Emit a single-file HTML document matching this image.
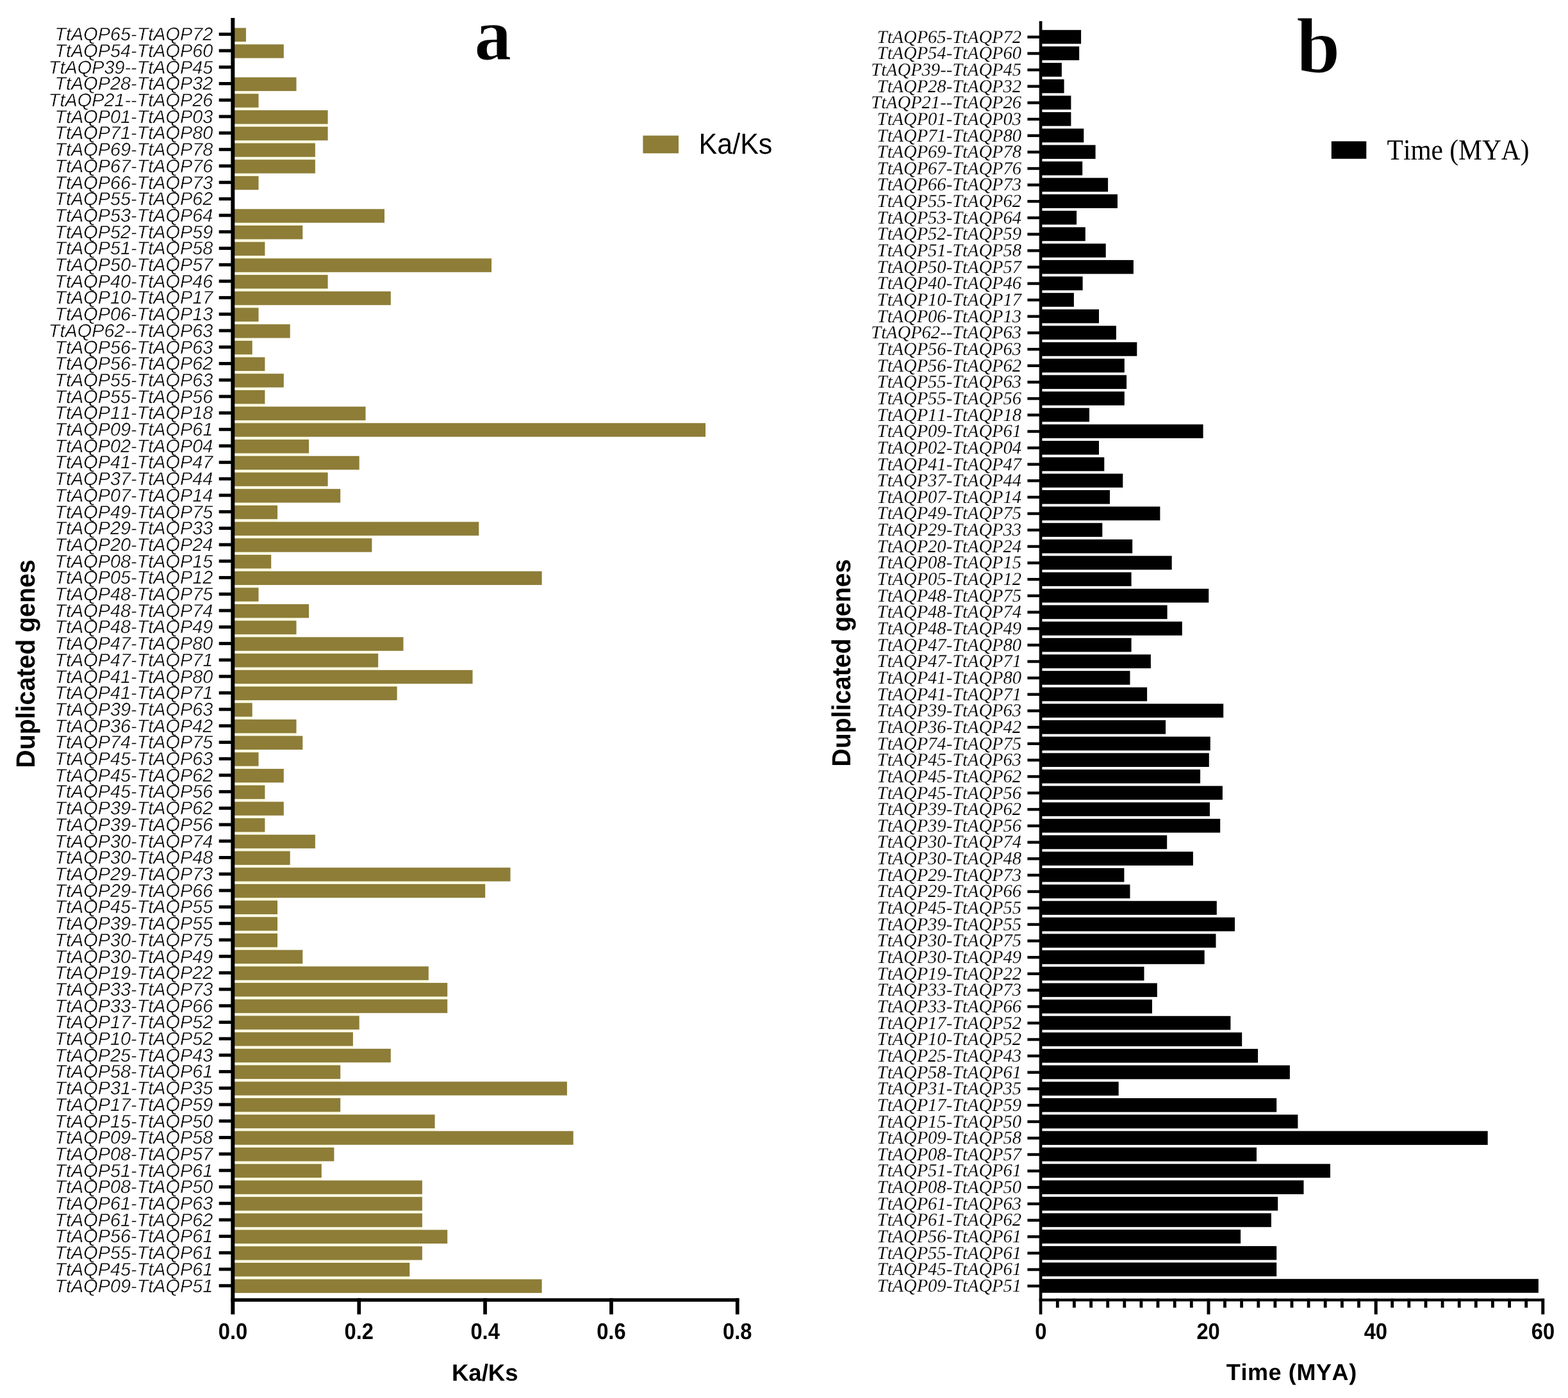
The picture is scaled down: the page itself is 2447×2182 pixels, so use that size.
<!DOCTYPE html>
<html lang="en"><head><meta charset="utf-8"><title>Duplicated genes: Ka/Ks and divergence time</title>
<style>
html,body{margin:0;padding:0;background:#fff;}
body{width:2447px;height:2182px;overflow:hidden;}
svg{display:block;}
text{font-kerning:none;font-variant-ligatures:none;text-rendering:geometricPrecision;}
.ls{font-family:"Liberation Sans",sans-serif;}
.lf{font-family:"Liberation Serif",serif;}
.cat-a{font-family:"Liberation Sans",sans-serif;font-style:italic;font-size:28.85px;text-anchor:end;fill:#000;stroke:#fff;stroke-width:0.45px;paint-order:fill stroke;}
.cat-b{font-family:"Liberation Serif",serif;font-style:italic;font-size:28.55px;text-anchor:end;fill:#000;stroke:#fff;stroke-width:0.18px;paint-order:fill stroke;}
.tick{font-family:"Liberation Sans",sans-serif;font-weight:bold;font-size:32.7px;text-anchor:middle;fill:#000;}
.ttl{font-family:"Liberation Sans",sans-serif;font-weight:bold;text-anchor:middle;fill:#000;}
</style></head><body>
<svg width="2447" height="2182" viewBox="0 0 2447 2182">
<rect x="0" y="0" width="2447" height="2182" fill="#ffffff"/>
<g id="chart-a">
<g fill="#fdfbe4">
<rect x="362.0" y="64.50" width="21.9" height="5.30"/>
<rect x="362.0" y="141.59" width="41.5" height="5.30"/>
<rect x="362.0" y="167.29" width="41.5" height="5.30"/>
<rect x="362.0" y="192.99" width="149.6" height="5.30"/>
<rect x="362.0" y="218.69" width="129.9" height="5.30"/>
<rect x="362.0" y="244.39" width="129.9" height="5.30"/>
<rect x="362.0" y="270.08" width="41.5" height="5.30"/>
<rect x="362.0" y="347.18" width="110.3" height="5.30"/>
<rect x="362.0" y="372.88" width="51.4" height="5.30"/>
<rect x="362.0" y="398.57" width="51.4" height="5.30"/>
<rect x="362.0" y="424.27" width="149.6" height="5.30"/>
<rect x="362.0" y="449.97" width="149.6" height="5.30"/>
<rect x="362.0" y="475.67" width="41.5" height="5.30"/>
<rect x="362.0" y="501.37" width="41.5" height="5.30"/>
<rect x="362.0" y="527.06" width="31.7" height="5.30"/>
<rect x="362.0" y="552.76" width="31.7" height="5.30"/>
<rect x="362.0" y="578.46" width="51.4" height="5.30"/>
<rect x="362.0" y="604.16" width="51.4" height="5.30"/>
<rect x="362.0" y="629.86" width="51.4" height="5.30"/>
<rect x="362.0" y="655.55" width="208.5" height="5.30"/>
<rect x="362.0" y="681.25" width="120.1" height="5.30"/>
<rect x="362.0" y="706.95" width="120.1" height="5.30"/>
<rect x="362.0" y="732.65" width="149.6" height="5.30"/>
<rect x="362.0" y="758.35" width="149.6" height="5.30"/>
<rect x="362.0" y="784.04" width="71.0" height="5.30"/>
<rect x="362.0" y="809.74" width="71.0" height="5.30"/>
<rect x="362.0" y="835.44" width="218.4" height="5.30"/>
<rect x="362.0" y="861.14" width="61.2" height="5.30"/>
<rect x="362.0" y="886.84" width="61.2" height="5.30"/>
<rect x="362.0" y="912.53" width="41.5" height="5.30"/>
<rect x="362.0" y="938.23" width="41.5" height="5.30"/>
<rect x="362.0" y="963.93" width="100.5" height="5.30"/>
<rect x="362.0" y="989.63" width="100.5" height="5.30"/>
<rect x="362.0" y="1015.33" width="228.2" height="5.30"/>
<rect x="362.0" y="1041.02" width="228.2" height="5.30"/>
<rect x="362.0" y="1066.72" width="257.6" height="5.30"/>
<rect x="362.0" y="1092.42" width="31.7" height="5.30"/>
<rect x="362.0" y="1118.12" width="31.7" height="5.30"/>
<rect x="362.0" y="1143.82" width="100.5" height="5.30"/>
<rect x="362.0" y="1169.51" width="41.5" height="5.30"/>
<rect x="362.0" y="1195.21" width="41.5" height="5.30"/>
<rect x="362.0" y="1220.91" width="51.4" height="5.30"/>
<rect x="362.0" y="1246.61" width="51.4" height="5.30"/>
<rect x="362.0" y="1272.31" width="51.4" height="5.30"/>
<rect x="362.0" y="1298.00" width="51.4" height="5.30"/>
<rect x="362.0" y="1323.70" width="90.7" height="5.30"/>
<rect x="362.0" y="1349.40" width="90.7" height="5.30"/>
<rect x="362.0" y="1375.10" width="395.2" height="5.30"/>
<rect x="362.0" y="1400.80" width="71.0" height="5.30"/>
<rect x="362.0" y="1426.49" width="71.0" height="5.30"/>
<rect x="362.0" y="1452.19" width="71.0" height="5.30"/>
<rect x="362.0" y="1477.89" width="71.0" height="5.30"/>
<rect x="362.0" y="1503.59" width="110.3" height="5.30"/>
<rect x="362.0" y="1529.29" width="306.8" height="5.30"/>
<rect x="362.0" y="1554.98" width="336.2" height="5.30"/>
<rect x="362.0" y="1580.68" width="198.7" height="5.30"/>
<rect x="362.0" y="1606.38" width="188.9" height="5.30"/>
<rect x="362.0" y="1632.08" width="188.9" height="5.30"/>
<rect x="362.0" y="1657.78" width="169.2" height="5.30"/>
<rect x="362.0" y="1683.47" width="169.2" height="5.30"/>
<rect x="362.0" y="1709.17" width="169.2" height="5.30"/>
<rect x="362.0" y="1734.87" width="169.2" height="5.30"/>
<rect x="362.0" y="1760.57" width="316.6" height="5.30"/>
<rect x="362.0" y="1786.27" width="159.4" height="5.30"/>
<rect x="362.0" y="1811.96" width="139.8" height="5.30"/>
<rect x="362.0" y="1837.66" width="139.8" height="5.30"/>
<rect x="362.0" y="1863.36" width="296.9" height="5.30"/>
<rect x="362.0" y="1889.06" width="296.9" height="5.30"/>
<rect x="362.0" y="1914.76" width="296.9" height="5.30"/>
<rect x="362.0" y="1940.45" width="296.9" height="5.30"/>
<rect x="362.0" y="1966.15" width="277.3" height="5.30"/>
<rect x="362.0" y="1991.85" width="277.3" height="5.30"/>
</g>
<g fill="#8d7d37">
<rect x="362.0" y="43.60" width="21.9" height="21.40"/>
<rect x="362.0" y="69.30" width="80.8" height="21.40"/>
<rect x="362.0" y="120.69" width="100.5" height="21.40"/>
<rect x="362.0" y="146.39" width="41.5" height="21.40"/>
<rect x="362.0" y="172.09" width="149.6" height="21.40"/>
<rect x="362.0" y="197.79" width="149.6" height="21.40"/>
<rect x="362.0" y="223.49" width="129.9" height="21.40"/>
<rect x="362.0" y="249.18" width="129.9" height="21.40"/>
<rect x="362.0" y="274.88" width="41.5" height="21.40"/>
<rect x="362.0" y="326.28" width="238.0" height="21.40"/>
<rect x="362.0" y="351.98" width="110.3" height="21.40"/>
<rect x="362.0" y="377.67" width="51.4" height="21.40"/>
<rect x="362.0" y="403.37" width="405.0" height="21.40"/>
<rect x="362.0" y="429.07" width="149.6" height="21.40"/>
<rect x="362.0" y="454.77" width="247.8" height="21.40"/>
<rect x="362.0" y="480.47" width="41.5" height="21.40"/>
<rect x="362.0" y="506.16" width="90.7" height="21.40"/>
<rect x="362.0" y="531.86" width="31.7" height="21.40"/>
<rect x="362.0" y="557.56" width="51.4" height="21.40"/>
<rect x="362.0" y="583.26" width="80.8" height="21.40"/>
<rect x="362.0" y="608.96" width="51.4" height="21.40"/>
<rect x="362.0" y="634.65" width="208.5" height="21.40"/>
<rect x="362.0" y="660.35" width="739.0" height="21.40"/>
<rect x="362.0" y="686.05" width="120.1" height="21.40"/>
<rect x="362.0" y="711.75" width="198.7" height="21.40"/>
<rect x="362.0" y="737.45" width="149.6" height="21.40"/>
<rect x="362.0" y="763.14" width="169.2" height="21.40"/>
<rect x="362.0" y="788.84" width="71.0" height="21.40"/>
<rect x="362.0" y="814.54" width="385.3" height="21.40"/>
<rect x="362.0" y="840.24" width="218.4" height="21.40"/>
<rect x="362.0" y="865.94" width="61.2" height="21.40"/>
<rect x="362.0" y="891.63" width="483.6" height="21.40"/>
<rect x="362.0" y="917.33" width="41.5" height="21.40"/>
<rect x="362.0" y="943.03" width="120.1" height="21.40"/>
<rect x="362.0" y="968.73" width="100.5" height="21.40"/>
<rect x="362.0" y="994.43" width="267.5" height="21.40"/>
<rect x="362.0" y="1020.12" width="228.2" height="21.40"/>
<rect x="362.0" y="1045.82" width="375.5" height="21.40"/>
<rect x="362.0" y="1071.52" width="257.6" height="21.40"/>
<rect x="362.0" y="1097.22" width="31.7" height="21.40"/>
<rect x="362.0" y="1122.92" width="100.5" height="21.40"/>
<rect x="362.0" y="1148.61" width="110.3" height="21.40"/>
<rect x="362.0" y="1174.31" width="41.5" height="21.40"/>
<rect x="362.0" y="1200.01" width="80.8" height="21.40"/>
<rect x="362.0" y="1225.71" width="51.4" height="21.40"/>
<rect x="362.0" y="1251.41" width="80.8" height="21.40"/>
<rect x="362.0" y="1277.10" width="51.4" height="21.40"/>
<rect x="362.0" y="1302.80" width="129.9" height="21.40"/>
<rect x="362.0" y="1328.50" width="90.7" height="21.40"/>
<rect x="362.0" y="1354.20" width="434.5" height="21.40"/>
<rect x="362.0" y="1379.90" width="395.2" height="21.40"/>
<rect x="362.0" y="1405.59" width="71.0" height="21.40"/>
<rect x="362.0" y="1431.29" width="71.0" height="21.40"/>
<rect x="362.0" y="1456.99" width="71.0" height="21.40"/>
<rect x="362.0" y="1482.69" width="110.3" height="21.40"/>
<rect x="362.0" y="1508.39" width="306.8" height="21.40"/>
<rect x="362.0" y="1534.08" width="336.2" height="21.40"/>
<rect x="362.0" y="1559.78" width="336.2" height="21.40"/>
<rect x="362.0" y="1585.48" width="198.7" height="21.40"/>
<rect x="362.0" y="1611.18" width="188.9" height="21.40"/>
<rect x="362.0" y="1636.88" width="247.8" height="21.40"/>
<rect x="362.0" y="1662.57" width="169.2" height="21.40"/>
<rect x="362.0" y="1688.27" width="522.9" height="21.40"/>
<rect x="362.0" y="1713.97" width="169.2" height="21.40"/>
<rect x="362.0" y="1739.67" width="316.6" height="21.40"/>
<rect x="362.0" y="1765.37" width="532.7" height="21.40"/>
<rect x="362.0" y="1791.06" width="159.4" height="21.40"/>
<rect x="362.0" y="1816.76" width="139.8" height="21.40"/>
<rect x="362.0" y="1842.46" width="296.9" height="21.40"/>
<rect x="362.0" y="1868.16" width="296.9" height="21.40"/>
<rect x="362.0" y="1893.86" width="296.9" height="21.40"/>
<rect x="362.0" y="1919.55" width="336.2" height="21.40"/>
<rect x="362.0" y="1945.25" width="296.9" height="21.40"/>
<rect x="362.0" y="1970.95" width="277.3" height="21.40"/>
<rect x="362.0" y="1996.65" width="483.6" height="21.40"/>
</g>
<g fill="#000">
<rect x="360.3" y="28.0" width="6.0" height="2023.5"/>
<rect x="360.3" y="2026.3" width="793.0" height="5.4"/>
<rect x="341.7" y="50.90" width="19.6" height="5.0"/>
<rect x="341.7" y="76.60" width="19.6" height="5.0"/>
<rect x="341.7" y="102.30" width="19.6" height="5.0"/>
<rect x="341.7" y="128.01" width="19.6" height="5.0"/>
<rect x="341.7" y="153.71" width="19.6" height="5.0"/>
<rect x="341.7" y="179.41" width="19.6" height="5.0"/>
<rect x="341.7" y="205.11" width="19.6" height="5.0"/>
<rect x="341.7" y="230.81" width="19.6" height="5.0"/>
<rect x="341.7" y="256.52" width="19.6" height="5.0"/>
<rect x="341.7" y="282.22" width="19.6" height="5.0"/>
<rect x="341.7" y="307.92" width="19.6" height="5.0"/>
<rect x="341.7" y="333.62" width="19.6" height="5.0"/>
<rect x="341.7" y="359.32" width="19.6" height="5.0"/>
<rect x="341.7" y="385.03" width="19.6" height="5.0"/>
<rect x="341.7" y="410.73" width="19.6" height="5.0"/>
<rect x="341.7" y="436.43" width="19.6" height="5.0"/>
<rect x="341.7" y="462.13" width="19.6" height="5.0"/>
<rect x="341.7" y="487.83" width="19.6" height="5.0"/>
<rect x="341.7" y="513.54" width="19.6" height="5.0"/>
<rect x="341.7" y="539.24" width="19.6" height="5.0"/>
<rect x="341.7" y="564.94" width="19.6" height="5.0"/>
<rect x="341.7" y="590.64" width="19.6" height="5.0"/>
<rect x="341.7" y="616.34" width="19.6" height="5.0"/>
<rect x="341.7" y="642.05" width="19.6" height="5.0"/>
<rect x="341.7" y="667.75" width="19.6" height="5.0"/>
<rect x="341.7" y="693.45" width="19.6" height="5.0"/>
<rect x="341.7" y="719.15" width="19.6" height="5.0"/>
<rect x="341.7" y="744.85" width="19.6" height="5.0"/>
<rect x="341.7" y="770.56" width="19.6" height="5.0"/>
<rect x="341.7" y="796.26" width="19.6" height="5.0"/>
<rect x="341.7" y="821.96" width="19.6" height="5.0"/>
<rect x="341.7" y="847.66" width="19.6" height="5.0"/>
<rect x="341.7" y="873.36" width="19.6" height="5.0"/>
<rect x="341.7" y="899.07" width="19.6" height="5.0"/>
<rect x="341.7" y="924.77" width="19.6" height="5.0"/>
<rect x="341.7" y="950.47" width="19.6" height="5.0"/>
<rect x="341.7" y="976.17" width="19.6" height="5.0"/>
<rect x="341.7" y="1001.87" width="19.6" height="5.0"/>
<rect x="341.7" y="1027.58" width="19.6" height="5.0"/>
<rect x="341.7" y="1053.28" width="19.6" height="5.0"/>
<rect x="341.7" y="1078.98" width="19.6" height="5.0"/>
<rect x="341.7" y="1104.68" width="19.6" height="5.0"/>
<rect x="341.7" y="1130.38" width="19.6" height="5.0"/>
<rect x="341.7" y="1156.09" width="19.6" height="5.0"/>
<rect x="341.7" y="1181.79" width="19.6" height="5.0"/>
<rect x="341.7" y="1207.49" width="19.6" height="5.0"/>
<rect x="341.7" y="1233.19" width="19.6" height="5.0"/>
<rect x="341.7" y="1258.89" width="19.6" height="5.0"/>
<rect x="341.7" y="1284.60" width="19.6" height="5.0"/>
<rect x="341.7" y="1310.30" width="19.6" height="5.0"/>
<rect x="341.7" y="1336.00" width="19.6" height="5.0"/>
<rect x="341.7" y="1361.70" width="19.6" height="5.0"/>
<rect x="341.7" y="1387.40" width="19.6" height="5.0"/>
<rect x="341.7" y="1413.11" width="19.6" height="5.0"/>
<rect x="341.7" y="1438.81" width="19.6" height="5.0"/>
<rect x="341.7" y="1464.51" width="19.6" height="5.0"/>
<rect x="341.7" y="1490.21" width="19.6" height="5.0"/>
<rect x="341.7" y="1515.91" width="19.6" height="5.0"/>
<rect x="341.7" y="1541.62" width="19.6" height="5.0"/>
<rect x="341.7" y="1567.32" width="19.6" height="5.0"/>
<rect x="341.7" y="1593.02" width="19.6" height="5.0"/>
<rect x="341.7" y="1618.72" width="19.6" height="5.0"/>
<rect x="341.7" y="1644.42" width="19.6" height="5.0"/>
<rect x="341.7" y="1670.13" width="19.6" height="5.0"/>
<rect x="341.7" y="1695.83" width="19.6" height="5.0"/>
<rect x="341.7" y="1721.53" width="19.6" height="5.0"/>
<rect x="341.7" y="1747.23" width="19.6" height="5.0"/>
<rect x="341.7" y="1772.93" width="19.6" height="5.0"/>
<rect x="341.7" y="1798.64" width="19.6" height="5.0"/>
<rect x="341.7" y="1824.34" width="19.6" height="5.0"/>
<rect x="341.7" y="1850.04" width="19.6" height="5.0"/>
<rect x="341.7" y="1875.74" width="19.6" height="5.0"/>
<rect x="341.7" y="1901.44" width="19.6" height="5.0"/>
<rect x="341.7" y="1927.15" width="19.6" height="5.0"/>
<rect x="341.7" y="1952.85" width="19.6" height="5.0"/>
<rect x="341.7" y="1978.55" width="19.6" height="5.0"/>
<rect x="341.7" y="2004.25" width="19.6" height="5.0"/>
<rect x="557.4" y="2026.3" width="5.7" height="25.2"/>
<rect x="754.2" y="2026.3" width="5.7" height="25.2"/>
<rect x="951.1" y="2026.3" width="5.7" height="25.2"/>
<rect x="1147.9" y="2026.3" width="5.7" height="25.2"/>
</g>
<g class="cat-a" transform="translate(332.30,0) scale(1.0000,1)">
<text x="0" y="63.20">TtAQP65-TtAQP72</text>
<text x="0" y="88.90">TtAQP54-TtAQP60</text>
<text x="0" y="114.60">TtAQP39--TtAQP45</text>
<text x="0" y="140.31">TtAQP28-TtAQP32</text>
<text x="0" y="166.01">TtAQP21--TtAQP26</text>
<text x="0" y="191.71">TtAQP01-TtAQP03</text>
<text x="0" y="217.41">TtAQP71-TtAQP80</text>
<text x="0" y="243.11">TtAQP69-TtAQP78</text>
<text x="0" y="268.82">TtAQP67-TtAQP76</text>
<text x="0" y="294.52">TtAQP66-TtAQP73</text>
<text x="0" y="320.22">TtAQP55-TtAQP62</text>
<text x="0" y="345.92">TtAQP53-TtAQP64</text>
<text x="0" y="371.62">TtAQP52-TtAQP59</text>
<text x="0" y="397.33">TtAQP51-TtAQP58</text>
<text x="0" y="423.03">TtAQP50-TtAQP57</text>
<text x="0" y="448.73">TtAQP40-TtAQP46</text>
<text x="0" y="474.43">TtAQP10-TtAQP17</text>
<text x="0" y="500.13">TtAQP06-TtAQP13</text>
<text x="0" y="525.84">TtAQP62--TtAQP63</text>
<text x="0" y="551.54">TtAQP56-TtAQP63</text>
<text x="0" y="577.24">TtAQP56-TtAQP62</text>
<text x="0" y="602.94">TtAQP55-TtAQP63</text>
<text x="0" y="628.64">TtAQP55-TtAQP56</text>
<text x="0" y="654.35">TtAQP11-TtAQP18</text>
<text x="0" y="680.05">TtAQP09-TtAQP61</text>
<text x="0" y="705.75">TtAQP02-TtAQP04</text>
<text x="0" y="731.45">TtAQP41-TtAQP47</text>
<text x="0" y="757.15">TtAQP37-TtAQP44</text>
<text x="0" y="782.86">TtAQP07-TtAQP14</text>
<text x="0" y="808.56">TtAQP49-TtAQP75</text>
<text x="0" y="834.26">TtAQP29-TtAQP33</text>
<text x="0" y="859.96">TtAQP20-TtAQP24</text>
<text x="0" y="885.66">TtAQP08-TtAQP15</text>
<text x="0" y="911.37">TtAQP05-TtAQP12</text>
<text x="0" y="937.07">TtAQP48-TtAQP75</text>
<text x="0" y="962.77">TtAQP48-TtAQP74</text>
<text x="0" y="988.47">TtAQP48-TtAQP49</text>
<text x="0" y="1014.17">TtAQP47-TtAQP80</text>
<text x="0" y="1039.88">TtAQP47-TtAQP71</text>
<text x="0" y="1065.58">TtAQP41-TtAQP80</text>
<text x="0" y="1091.28">TtAQP41-TtAQP71</text>
<text x="0" y="1116.98">TtAQP39-TtAQP63</text>
<text x="0" y="1142.68">TtAQP36-TtAQP42</text>
<text x="0" y="1168.39">TtAQP74-TtAQP75</text>
<text x="0" y="1194.09">TtAQP45-TtAQP63</text>
<text x="0" y="1219.79">TtAQP45-TtAQP62</text>
<text x="0" y="1245.49">TtAQP45-TtAQP56</text>
<text x="0" y="1271.19">TtAQP39-TtAQP62</text>
<text x="0" y="1296.90">TtAQP39-TtAQP56</text>
<text x="0" y="1322.60">TtAQP30-TtAQP74</text>
<text x="0" y="1348.30">TtAQP30-TtAQP48</text>
<text x="0" y="1374.00">TtAQP29-TtAQP73</text>
<text x="0" y="1399.70">TtAQP29-TtAQP66</text>
<text x="0" y="1425.41">TtAQP45-TtAQP55</text>
<text x="0" y="1451.11">TtAQP39-TtAQP55</text>
<text x="0" y="1476.81">TtAQP30-TtAQP75</text>
<text x="0" y="1502.51">TtAQP30-TtAQP49</text>
<text x="0" y="1528.21">TtAQP19-TtAQP22</text>
<text x="0" y="1553.92">TtAQP33-TtAQP73</text>
<text x="0" y="1579.62">TtAQP33-TtAQP66</text>
<text x="0" y="1605.32">TtAQP17-TtAQP52</text>
<text x="0" y="1631.02">TtAQP10-TtAQP52</text>
<text x="0" y="1656.72">TtAQP25-TtAQP43</text>
<text x="0" y="1682.43">TtAQP58-TtAQP61</text>
<text x="0" y="1708.13">TtAQP31-TtAQP35</text>
<text x="0" y="1733.83">TtAQP17-TtAQP59</text>
<text x="0" y="1759.53">TtAQP15-TtAQP50</text>
<text x="0" y="1785.23">TtAQP09-TtAQP58</text>
<text x="0" y="1810.94">TtAQP08-TtAQP57</text>
<text x="0" y="1836.64">TtAQP51-TtAQP61</text>
<text x="0" y="1862.34">TtAQP08-TtAQP50</text>
<text x="0" y="1888.04">TtAQP61-TtAQP63</text>
<text x="0" y="1913.74">TtAQP61-TtAQP62</text>
<text x="0" y="1939.45">TtAQP56-TtAQP61</text>
<text x="0" y="1965.15">TtAQP55-TtAQP61</text>
<text x="0" y="1990.85">TtAQP45-TtAQP61</text>
<text x="0" y="2016.55">TtAQP09-TtAQP51</text>
</g>
<g class="tick">
<text transform="translate(363.5,2089.8) scale(1,1.09)">0.0</text>
<text transform="translate(560.3,2089.8) scale(1,1.09)">0.2</text>
<text transform="translate(757.1,2089.8) scale(1,1.09)">0.4</text>
<text transform="translate(953.9,2089.8) scale(1,1.09)">0.6</text>
<text transform="translate(1150.7,2089.8) scale(1,1.09)">0.8</text>
</g>
<text class="ttl" x="756.8" y="2155.2" font-size="36.6">Ka/Ks</text>
<text class="ttl" font-size="39.3" transform="translate(53.7,1036.0) rotate(-90) scale(1,1.045)">Duplicated genes</text>
<rect x="1003.4" y="211.6" width="55.6" height="27.7" fill="#8d7d37"/>
<text class="ls" transform="translate(1090.6,239.7) scale(1,1.055)" font-size="43" fill="#000">Ka/Ks</text>
<text class="lf" x="769.3" y="92.9" font-size="116" font-weight="bold" text-anchor="middle" fill="#000" stroke="#fff" stroke-width="1.2">a</text>
</g>
<g id="chart-b">
<g fill="#000">
<rect x="1623.0" y="46.80" width="64.1" height="21.60"/>
<rect x="1623.0" y="72.45" width="61.2" height="21.60"/>
<rect x="1623.0" y="98.10" width="33.9" height="21.60"/>
<rect x="1623.0" y="123.75" width="37.6" height="21.60"/>
<rect x="1623.0" y="149.40" width="48.4" height="21.60"/>
<rect x="1623.0" y="175.05" width="48.4" height="21.60"/>
<rect x="1623.0" y="200.70" width="68.3" height="21.60"/>
<rect x="1623.0" y="226.35" width="86.6" height="21.60"/>
<rect x="1623.0" y="252.00" width="66.2" height="21.60"/>
<rect x="1623.0" y="277.65" width="106.1" height="21.60"/>
<rect x="1623.0" y="303.30" width="121.0" height="21.60"/>
<rect x="1623.0" y="328.95" width="57.1" height="21.60"/>
<rect x="1623.0" y="354.60" width="70.8" height="21.60"/>
<rect x="1623.0" y="380.25" width="102.7" height="21.60"/>
<rect x="1623.0" y="405.90" width="145.9" height="21.60"/>
<rect x="1623.0" y="431.55" width="66.6" height="21.60"/>
<rect x="1623.0" y="457.20" width="52.9" height="21.60"/>
<rect x="1623.0" y="482.85" width="92.0" height="21.60"/>
<rect x="1623.0" y="508.50" width="118.9" height="21.60"/>
<rect x="1623.0" y="534.15" width="151.3" height="21.60"/>
<rect x="1623.0" y="559.80" width="131.8" height="21.60"/>
<rect x="1623.0" y="585.45" width="135.1" height="21.60"/>
<rect x="1623.0" y="611.10" width="131.8" height="21.60"/>
<rect x="1623.0" y="636.75" width="77.0" height="21.60"/>
<rect x="1623.0" y="662.40" width="254.6" height="21.60"/>
<rect x="1623.0" y="688.05" width="92.0" height="21.60"/>
<rect x="1623.0" y="713.70" width="100.3" height="21.60"/>
<rect x="1623.0" y="739.35" width="129.3" height="21.60"/>
<rect x="1623.0" y="765.00" width="109.0" height="21.60"/>
<rect x="1623.0" y="790.65" width="187.4" height="21.60"/>
<rect x="1623.0" y="816.30" width="97.3" height="21.60"/>
<rect x="1623.0" y="841.95" width="144.2" height="21.60"/>
<rect x="1623.0" y="867.60" width="205.7" height="21.60"/>
<rect x="1623.0" y="893.25" width="142.6" height="21.60"/>
<rect x="1623.0" y="918.90" width="263.3" height="21.60"/>
<rect x="1623.0" y="944.55" width="198.6" height="21.60"/>
<rect x="1623.0" y="970.20" width="221.8" height="21.60"/>
<rect x="1623.0" y="995.85" width="142.6" height="21.60"/>
<rect x="1623.0" y="1021.50" width="172.9" height="21.60"/>
<rect x="1623.0" y="1047.15" width="140.5" height="21.60"/>
<rect x="1623.0" y="1072.80" width="167.1" height="21.60"/>
<rect x="1623.0" y="1098.45" width="286.2" height="21.60"/>
<rect x="1623.0" y="1124.10" width="196.1" height="21.60"/>
<rect x="1623.0" y="1149.75" width="265.8" height="21.60"/>
<rect x="1623.0" y="1175.40" width="263.8" height="21.60"/>
<rect x="1623.0" y="1201.05" width="250.1" height="21.60"/>
<rect x="1623.0" y="1226.70" width="284.9" height="21.60"/>
<rect x="1623.0" y="1252.35" width="265.0" height="21.60"/>
<rect x="1623.0" y="1278.00" width="281.2" height="21.60"/>
<rect x="1623.0" y="1303.65" width="198.2" height="21.60"/>
<rect x="1623.0" y="1329.30" width="238.9" height="21.60"/>
<rect x="1623.0" y="1354.95" width="131.4" height="21.60"/>
<rect x="1623.0" y="1380.60" width="140.5" height="21.60"/>
<rect x="1623.0" y="1406.25" width="275.8" height="21.60"/>
<rect x="1623.0" y="1431.90" width="304.0" height="21.60"/>
<rect x="1623.0" y="1457.55" width="274.5" height="21.60"/>
<rect x="1623.0" y="1483.20" width="256.7" height="21.60"/>
<rect x="1623.0" y="1508.85" width="162.5" height="21.60"/>
<rect x="1623.0" y="1534.50" width="182.8" height="21.60"/>
<rect x="1623.0" y="1560.15" width="175.0" height="21.60"/>
<rect x="1623.0" y="1585.80" width="297.4" height="21.60"/>
<rect x="1623.0" y="1611.45" width="315.2" height="21.60"/>
<rect x="1623.0" y="1637.10" width="340.1" height="21.60"/>
<rect x="1623.0" y="1662.75" width="389.9" height="21.60"/>
<rect x="1623.0" y="1688.40" width="122.7" height="21.60"/>
<rect x="1623.0" y="1714.05" width="369.2" height="21.60"/>
<rect x="1623.0" y="1739.70" width="402.4" height="21.60"/>
<rect x="1623.0" y="1765.35" width="698.7" height="21.60"/>
<rect x="1623.0" y="1791.00" width="338.0" height="21.60"/>
<rect x="1623.0" y="1816.65" width="453.0" height="21.60"/>
<rect x="1623.0" y="1842.30" width="411.5" height="21.60"/>
<rect x="1623.0" y="1867.95" width="371.2" height="21.60"/>
<rect x="1623.0" y="1893.60" width="360.9" height="21.60"/>
<rect x="1623.0" y="1919.25" width="313.1" height="21.60"/>
<rect x="1623.0" y="1944.90" width="369.2" height="21.60"/>
<rect x="1623.0" y="1970.55" width="369.2" height="21.60"/>
<rect x="1623.0" y="1996.20" width="777.9" height="21.60"/>
<rect x="1621.7" y="33.0" width="4.7" height="2018.5"/>
<rect x="1621.7" y="2026.8" width="788.3" height="4.4"/>
<rect x="1603.4" y="55.60" width="19.3" height="4.4"/>
<rect x="1603.4" y="81.25" width="19.3" height="4.4"/>
<rect x="1603.4" y="106.90" width="19.3" height="4.4"/>
<rect x="1603.4" y="132.55" width="19.3" height="4.4"/>
<rect x="1603.4" y="158.20" width="19.3" height="4.4"/>
<rect x="1603.4" y="183.85" width="19.3" height="4.4"/>
<rect x="1603.4" y="209.50" width="19.3" height="4.4"/>
<rect x="1603.4" y="235.15" width="19.3" height="4.4"/>
<rect x="1603.4" y="260.80" width="19.3" height="4.4"/>
<rect x="1603.4" y="286.45" width="19.3" height="4.4"/>
<rect x="1603.4" y="312.10" width="19.3" height="4.4"/>
<rect x="1603.4" y="337.75" width="19.3" height="4.4"/>
<rect x="1603.4" y="363.40" width="19.3" height="4.4"/>
<rect x="1603.4" y="389.05" width="19.3" height="4.4"/>
<rect x="1603.4" y="414.70" width="19.3" height="4.4"/>
<rect x="1603.4" y="440.35" width="19.3" height="4.4"/>
<rect x="1603.4" y="466.00" width="19.3" height="4.4"/>
<rect x="1603.4" y="491.65" width="19.3" height="4.4"/>
<rect x="1603.4" y="517.30" width="19.3" height="4.4"/>
<rect x="1603.4" y="542.95" width="19.3" height="4.4"/>
<rect x="1603.4" y="568.60" width="19.3" height="4.4"/>
<rect x="1603.4" y="594.25" width="19.3" height="4.4"/>
<rect x="1603.4" y="619.90" width="19.3" height="4.4"/>
<rect x="1603.4" y="645.55" width="19.3" height="4.4"/>
<rect x="1603.4" y="671.20" width="19.3" height="4.4"/>
<rect x="1603.4" y="696.85" width="19.3" height="4.4"/>
<rect x="1603.4" y="722.50" width="19.3" height="4.4"/>
<rect x="1603.4" y="748.15" width="19.3" height="4.4"/>
<rect x="1603.4" y="773.80" width="19.3" height="4.4"/>
<rect x="1603.4" y="799.45" width="19.3" height="4.4"/>
<rect x="1603.4" y="825.10" width="19.3" height="4.4"/>
<rect x="1603.4" y="850.75" width="19.3" height="4.4"/>
<rect x="1603.4" y="876.40" width="19.3" height="4.4"/>
<rect x="1603.4" y="902.05" width="19.3" height="4.4"/>
<rect x="1603.4" y="927.70" width="19.3" height="4.4"/>
<rect x="1603.4" y="953.35" width="19.3" height="4.4"/>
<rect x="1603.4" y="979.00" width="19.3" height="4.4"/>
<rect x="1603.4" y="1004.65" width="19.3" height="4.4"/>
<rect x="1603.4" y="1030.30" width="19.3" height="4.4"/>
<rect x="1603.4" y="1055.95" width="19.3" height="4.4"/>
<rect x="1603.4" y="1081.60" width="19.3" height="4.4"/>
<rect x="1603.4" y="1107.25" width="19.3" height="4.4"/>
<rect x="1603.4" y="1132.90" width="19.3" height="4.4"/>
<rect x="1603.4" y="1158.55" width="19.3" height="4.4"/>
<rect x="1603.4" y="1184.20" width="19.3" height="4.4"/>
<rect x="1603.4" y="1209.85" width="19.3" height="4.4"/>
<rect x="1603.4" y="1235.50" width="19.3" height="4.4"/>
<rect x="1603.4" y="1261.15" width="19.3" height="4.4"/>
<rect x="1603.4" y="1286.80" width="19.3" height="4.4"/>
<rect x="1603.4" y="1312.45" width="19.3" height="4.4"/>
<rect x="1603.4" y="1338.10" width="19.3" height="4.4"/>
<rect x="1603.4" y="1363.75" width="19.3" height="4.4"/>
<rect x="1603.4" y="1389.40" width="19.3" height="4.4"/>
<rect x="1603.4" y="1415.05" width="19.3" height="4.4"/>
<rect x="1603.4" y="1440.70" width="19.3" height="4.4"/>
<rect x="1603.4" y="1466.35" width="19.3" height="4.4"/>
<rect x="1603.4" y="1492.00" width="19.3" height="4.4"/>
<rect x="1603.4" y="1517.65" width="19.3" height="4.4"/>
<rect x="1603.4" y="1543.30" width="19.3" height="4.4"/>
<rect x="1603.4" y="1568.95" width="19.3" height="4.4"/>
<rect x="1603.4" y="1594.60" width="19.3" height="4.4"/>
<rect x="1603.4" y="1620.25" width="19.3" height="4.4"/>
<rect x="1603.4" y="1645.90" width="19.3" height="4.4"/>
<rect x="1603.4" y="1671.55" width="19.3" height="4.4"/>
<rect x="1603.4" y="1697.20" width="19.3" height="4.4"/>
<rect x="1603.4" y="1722.85" width="19.3" height="4.4"/>
<rect x="1603.4" y="1748.50" width="19.3" height="4.4"/>
<rect x="1603.4" y="1774.15" width="19.3" height="4.4"/>
<rect x="1603.4" y="1799.80" width="19.3" height="4.4"/>
<rect x="1603.4" y="1825.45" width="19.3" height="4.4"/>
<rect x="1603.4" y="1851.10" width="19.3" height="4.4"/>
<rect x="1603.4" y="1876.75" width="19.3" height="4.4"/>
<rect x="1603.4" y="1902.40" width="19.3" height="4.4"/>
<rect x="1603.4" y="1928.05" width="19.3" height="4.4"/>
<rect x="1603.4" y="1953.70" width="19.3" height="4.4"/>
<rect x="1603.4" y="1979.35" width="19.3" height="4.4"/>
<rect x="1603.4" y="2005.00" width="19.3" height="4.4"/>
<rect x="1647.9" y="2026.8" width="4.8" height="14.2"/>
<rect x="1674.0" y="2026.8" width="4.8" height="14.2"/>
<rect x="1700.2" y="2026.8" width="4.8" height="14.2"/>
<rect x="1726.3" y="2026.8" width="4.8" height="14.2"/>
<rect x="1752.4" y="2026.8" width="4.8" height="14.2"/>
<rect x="1778.5" y="2026.8" width="4.8" height="14.2"/>
<rect x="1804.6" y="2026.8" width="4.8" height="14.2"/>
<rect x="1830.8" y="2026.8" width="4.8" height="14.2"/>
<rect x="1856.9" y="2026.8" width="4.8" height="14.2"/>
<rect x="1883.5" y="2026.8" width="5" height="24.7"/>
<rect x="1909.1" y="2026.8" width="4.8" height="14.2"/>
<rect x="1935.2" y="2026.8" width="4.8" height="14.2"/>
<rect x="1961.4" y="2026.8" width="4.8" height="14.2"/>
<rect x="1987.5" y="2026.8" width="4.8" height="14.2"/>
<rect x="2013.6" y="2026.8" width="4.8" height="14.2"/>
<rect x="2039.7" y="2026.8" width="4.8" height="14.2"/>
<rect x="2065.8" y="2026.8" width="4.8" height="14.2"/>
<rect x="2092.0" y="2026.8" width="4.8" height="14.2"/>
<rect x="2118.1" y="2026.8" width="4.8" height="14.2"/>
<rect x="2144.7" y="2026.8" width="5" height="24.7"/>
<rect x="2170.3" y="2026.8" width="4.8" height="14.2"/>
<rect x="2196.4" y="2026.8" width="4.8" height="14.2"/>
<rect x="2222.6" y="2026.8" width="4.8" height="14.2"/>
<rect x="2248.7" y="2026.8" width="4.8" height="14.2"/>
<rect x="2274.8" y="2026.8" width="4.8" height="14.2"/>
<rect x="2300.9" y="2026.8" width="4.8" height="14.2"/>
<rect x="2327.0" y="2026.8" width="4.8" height="14.2"/>
<rect x="2353.2" y="2026.8" width="4.8" height="14.2"/>
<rect x="2379.3" y="2026.8" width="4.8" height="14.2"/>
<rect x="2405.3" y="2026.8" width="5" height="24.7"/>
</g>
<g class="cat-b" transform="translate(1594.00,0) scale(1.0000,1)">
<text x="0" y="66.60">TtAQP65-TtAQP72</text>
<text x="0" y="92.25">TtAQP54-TtAQP60</text>
<text x="0" y="117.90">TtAQP39--TtAQP45</text>
<text x="0" y="143.55">TtAQP28-TtAQP32</text>
<text x="0" y="169.20">TtAQP21--TtAQP26</text>
<text x="0" y="194.85">TtAQP01-TtAQP03</text>
<text x="0" y="220.50">TtAQP71-TtAQP80</text>
<text x="0" y="246.15">TtAQP69-TtAQP78</text>
<text x="0" y="271.80">TtAQP67-TtAQP76</text>
<text x="0" y="297.45">TtAQP66-TtAQP73</text>
<text x="0" y="323.10">TtAQP55-TtAQP62</text>
<text x="0" y="348.75">TtAQP53-TtAQP64</text>
<text x="0" y="374.40">TtAQP52-TtAQP59</text>
<text x="0" y="400.05">TtAQP51-TtAQP58</text>
<text x="0" y="425.70">TtAQP50-TtAQP57</text>
<text x="0" y="451.35">TtAQP40-TtAQP46</text>
<text x="0" y="477.00">TtAQP10-TtAQP17</text>
<text x="0" y="502.65">TtAQP06-TtAQP13</text>
<text x="0" y="528.30">TtAQP62--TtAQP63</text>
<text x="0" y="553.95">TtAQP56-TtAQP63</text>
<text x="0" y="579.60">TtAQP56-TtAQP62</text>
<text x="0" y="605.25">TtAQP55-TtAQP63</text>
<text x="0" y="630.90">TtAQP55-TtAQP56</text>
<text x="0" y="656.55">TtAQP11-TtAQP18</text>
<text x="0" y="682.20">TtAQP09-TtAQP61</text>
<text x="0" y="707.85">TtAQP02-TtAQP04</text>
<text x="0" y="733.50">TtAQP41-TtAQP47</text>
<text x="0" y="759.15">TtAQP37-TtAQP44</text>
<text x="0" y="784.80">TtAQP07-TtAQP14</text>
<text x="0" y="810.45">TtAQP49-TtAQP75</text>
<text x="0" y="836.10">TtAQP29-TtAQP33</text>
<text x="0" y="861.75">TtAQP20-TtAQP24</text>
<text x="0" y="887.40">TtAQP08-TtAQP15</text>
<text x="0" y="913.05">TtAQP05-TtAQP12</text>
<text x="0" y="938.70">TtAQP48-TtAQP75</text>
<text x="0" y="964.35">TtAQP48-TtAQP74</text>
<text x="0" y="990.00">TtAQP48-TtAQP49</text>
<text x="0" y="1015.65">TtAQP47-TtAQP80</text>
<text x="0" y="1041.30">TtAQP47-TtAQP71</text>
<text x="0" y="1066.95">TtAQP41-TtAQP80</text>
<text x="0" y="1092.60">TtAQP41-TtAQP71</text>
<text x="0" y="1118.25">TtAQP39-TtAQP63</text>
<text x="0" y="1143.90">TtAQP36-TtAQP42</text>
<text x="0" y="1169.55">TtAQP74-TtAQP75</text>
<text x="0" y="1195.20">TtAQP45-TtAQP63</text>
<text x="0" y="1220.85">TtAQP45-TtAQP62</text>
<text x="0" y="1246.50">TtAQP45-TtAQP56</text>
<text x="0" y="1272.15">TtAQP39-TtAQP62</text>
<text x="0" y="1297.80">TtAQP39-TtAQP56</text>
<text x="0" y="1323.45">TtAQP30-TtAQP74</text>
<text x="0" y="1349.10">TtAQP30-TtAQP48</text>
<text x="0" y="1374.75">TtAQP29-TtAQP73</text>
<text x="0" y="1400.40">TtAQP29-TtAQP66</text>
<text x="0" y="1426.05">TtAQP45-TtAQP55</text>
<text x="0" y="1451.70">TtAQP39-TtAQP55</text>
<text x="0" y="1477.35">TtAQP30-TtAQP75</text>
<text x="0" y="1503.00">TtAQP30-TtAQP49</text>
<text x="0" y="1528.65">TtAQP19-TtAQP22</text>
<text x="0" y="1554.30">TtAQP33-TtAQP73</text>
<text x="0" y="1579.95">TtAQP33-TtAQP66</text>
<text x="0" y="1605.60">TtAQP17-TtAQP52</text>
<text x="0" y="1631.25">TtAQP10-TtAQP52</text>
<text x="0" y="1656.90">TtAQP25-TtAQP43</text>
<text x="0" y="1682.55">TtAQP58-TtAQP61</text>
<text x="0" y="1708.20">TtAQP31-TtAQP35</text>
<text x="0" y="1733.85">TtAQP17-TtAQP59</text>
<text x="0" y="1759.50">TtAQP15-TtAQP50</text>
<text x="0" y="1785.15">TtAQP09-TtAQP58</text>
<text x="0" y="1810.80">TtAQP08-TtAQP57</text>
<text x="0" y="1836.45">TtAQP51-TtAQP61</text>
<text x="0" y="1862.10">TtAQP08-TtAQP50</text>
<text x="0" y="1887.75">TtAQP61-TtAQP63</text>
<text x="0" y="1913.40">TtAQP61-TtAQP62</text>
<text x="0" y="1939.05">TtAQP56-TtAQP61</text>
<text x="0" y="1964.70">TtAQP55-TtAQP61</text>
<text x="0" y="1990.35">TtAQP45-TtAQP61</text>
<text x="0" y="2016.00">TtAQP09-TtAQP51</text>
</g>
<g class="tick">
<text transform="translate(1624.4,2089.8) scale(1,1.09)">0</text>
<text transform="translate(1885.6,2089.8) scale(1,1.09)">20</text>
<text transform="translate(2146.8,2089.8) scale(1,1.09)">40</text>
<text transform="translate(2408.0,2089.8) scale(1,1.09)">60</text>
</g>
<text class="ttl" x="2015.8" y="2153.6" font-size="36" letter-spacing="0.6">Time (MYA)</text>
<text class="ttl" font-size="39.1" transform="translate(1327.0,1034.6) rotate(-90) scale(1,1.045)">Duplicated genes</text>
<rect x="2077.8" y="220.5" width="54.5" height="27.3" fill="#000"/>
<text class="lf" transform="translate(2164.6,248.7) scale(1,1.10)" font-size="41.4" fill="#000">Time (MYA)</text>
<text class="lf" x="2057.3" y="113.2" font-size="122.5" font-weight="bold" text-anchor="middle" fill="#000" stroke="#fff" stroke-width="1.2">b</text>
</g>
</svg>
</body></html>
